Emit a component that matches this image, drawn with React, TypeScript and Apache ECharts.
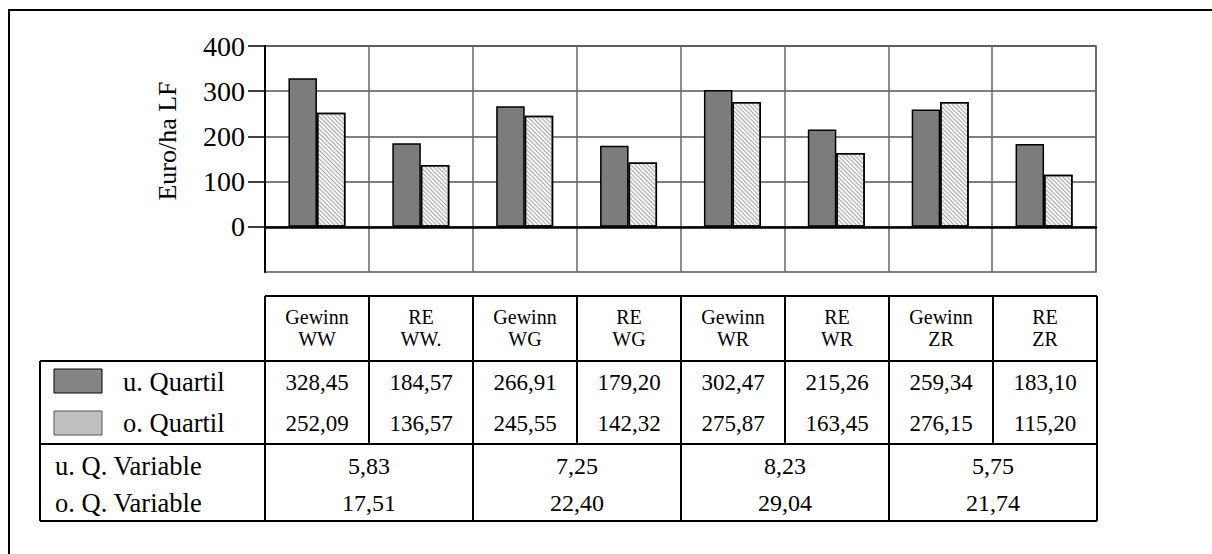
import React, { useEffect, useRef } from "react";
import * as echarts from "echarts";

const categories = ["Gewinn\nWW", "RE\nWW.", "Gewinn\nWG", "RE\nWG", "Gewinn\nWR", "RE\nWR", "Gewinn\nZR", "RE\nZR"];
const uQuartil = [328.45, 184.57, 266.91, 179.2, 302.47, 215.26, 259.34, 183.1];
const oQuartil = [252.09, 136.57, 245.55, 142.32, 275.87, 163.45, 276.15, 115.2];
const uQVariable = [5.83, 7.25, 8.23, 5.75];
const oQVariable = [17.51, 22.4, 29.04, 21.74];
const seriesNames = ["u. Quartil", "o. Quartil"];
const variableNames = ["u. Q. Variable", "o. Q. Variable"];
const yTicks = [0, 100, 200, 300, 400];
const yAxisName = "Euro/ha LF";

const FONT = "Liberation Serif, Times New Roman, serif";
const fmt = (v: number) => v.toFixed(2).replace(".", ",");

export default function App() {
  const ref = useRef<HTMLDivElement>(null);
  useEffect(() => {
    if (!ref.current) return;
    const chart = echarts.init(ref.current, undefined, { renderer: "svg" });

    const gLeft = 265, gRight = 1097, gTop = 46, gBottom = 272;
    const colW = (gRight - gLeft) / categories.length;
    const tTop = 296, tHead = 361, tMid = 444, tBot = 521, tLeftX = 40;
    const lineStyle = { stroke: "#000", lineWidth: 2 };
    const g: any[] = [];
    const hline = (x1: number, x2: number, y: number) =>
      g.push({ type: "line", shape: { x1, y1: y, x2, y2: y }, style: lineStyle, z: 10 });
    const vline = (x: number, y1: number, y2: number) =>
      g.push({ type: "line", shape: { x1: x, y1, x2: x, y2 }, style: lineStyle, z: 10 });
    const txt = (x: number, y: number, text: string, size: number, align = "center") =>
      g.push({
        type: "text", x, y,
        style: { text, fontFamily: FONT, fontSize: size, fill: "#000", align, verticalAlign: "middle" },
      });

    // outer frame
    g.push({ type: "line", shape: { x1: 8, y1: 10, x2: 1212, y2: 10 }, style: lineStyle });
    g.push({ type: "line", shape: { x1: 9, y1: 10, x2: 9, y2: 554 }, style: lineStyle });

    // y axis name
    g.push({
      type: "text", x: 167, y: 141, rotation: Math.PI / 2,
      style: { text: yAxisName, fontFamily: FONT, fontSize: 26, fill: "#000", align: "center", verticalAlign: "middle" },
    });

    // table lines
    hline(gLeft, gRight, tTop);
    hline(tLeftX, gRight, tHead);
    hline(tLeftX, gRight, tMid);
    hline(tLeftX, gRight, tBot);
    vline(tLeftX, tHead, tBot);
    for (let i = 0; i <= categories.length; i++) {
      const x = gLeft + i * colW;
      vline(x, tTop, i % 2 === 0 ? tBot : tMid);
    }

    // header texts & values
    categories.forEach((c, i) => {
      const cx = gLeft + (i + 0.5) * colW;
      c.split("\n").forEach((p, k) => txt(cx, 317 + k * 21.5, p, 20));
      txt(cx, 382, fmt(uQuartil[i]), 23);
      txt(cx, 423, fmt(oQuartil[i]), 23);
    });
    uQVariable.forEach((v, j) => {
      const cx = gLeft + (j * 2 + 1) * colW;
      txt(cx, 466, fmt(v), 24);
      txt(cx, 503, fmt(oQVariable[j]), 24);
    });

    // legend rows
    g.push({ type: "rect", shape: { x: 54, y: 369, width: 48, height: 24 }, style: { fill: "#858585", stroke: "#000", lineWidth: 1 } });
    g.push({ type: "rect", shape: { x: 54, y: 411, width: 48, height: 24 }, style: { fill: "#c0c0c0", stroke: "#555", lineWidth: 1 } });
    txt(123, 382, seriesNames[0], 26.5, "left");
    txt(123, 423, seriesNames[1], 26.5, "left");
    txt(55, 466, variableNames[0], 26.5, "left");
    txt(55, 503, variableNames[1], 26.5, "left");

    chart.setOption({
      animation: false,
      backgroundColor: "#fff",
      grid: {
        left: gLeft, top: gTop, width: gRight - gLeft - 1, height: gBottom - gTop,
        show: true, borderColor: "#555", borderWidth: 1.5, containLabel: false,
      },
      xAxis: {
        type: "category",
        data: categories,
        axisLabel: { show: false },
        axisTick: { show: false },
        axisLine: { lineStyle: { color: "#000", width: 2.5 } },
        splitLine: { show: true, lineStyle: { color: "#666", width: 1.5 } },
      },
      yAxis: {
        type: "value",
        min: -100, max: 400, interval: 100,
        axisLine: { show: true, lineStyle: { color: "#000", width: 2 } },
        axisTick: { show: true, length: 17, lineStyle: { color: "#000", width: 1.5 }, customValues: yTicks },
        axisLabel: {
          fontSize: 28, fontFamily: FONT, color: "#000", margin: 20,
          customValues: yTicks,
          formatter: (v: number) => (v < 0 ? "" : String(v)),
        },
        splitLine: { show: true, lineStyle: { color: "#555", width: 1.5 } },
      },
      series: [
        {
          name: seriesNames[0], type: "bar", data: uQuartil, barWidth: 28.5, barGap: "0%",
          itemStyle: { color: "#7c7c7c", borderColor: "#000", borderWidth: 1.5 },
        },
        {
          name: seriesNames[1], type: "bar", data: oQuartil, barWidth: 28.5,
          itemStyle: {
            color: "#f6f6f6", borderColor: "#000", borderWidth: 1.5,
            decal: { symbol: "rect", symbolSize: 1, dashArrayX: [1, 0], dashArrayY: [1, 2], rotation: Math.PI / 4, color: "#a8a8a8" },
          },
        },
      ],
      graphic: g,
    });
    return () => chart.dispose();
  }, []);
  return <div ref={ref} style={{ position: "fixed", left: 0, top: 0, width: 1212, height: 554, background: "#fff" }} />;
}
